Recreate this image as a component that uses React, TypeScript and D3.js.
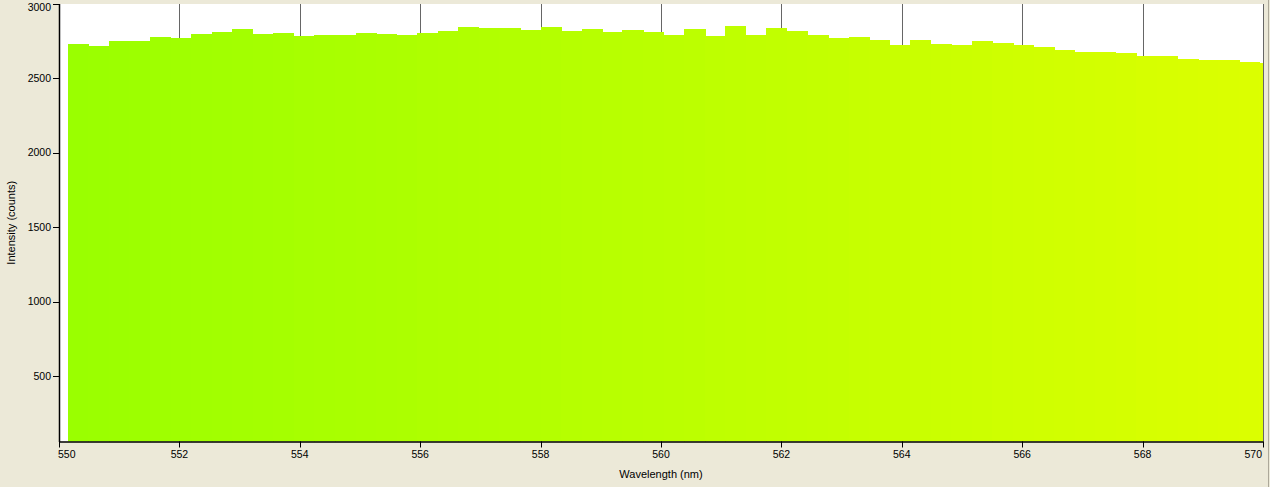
import React from "react";
import * as d3 from "d3";

const wavelengths: number[] = [
  550.32, 550.66, 551.0, 551.34, 551.68, 552.03, 552.37, 552.71, 553.05, 553.39,
  553.73, 554.07, 554.41, 554.76, 555.1, 555.44, 555.78, 556.12, 556.46, 556.8,
  557.14, 557.49, 557.83, 558.17, 558.51, 558.85, 559.19, 559.53, 559.87, 560.22,
  560.56, 560.9, 561.24, 561.58, 561.92, 562.26, 562.6, 562.95, 563.29, 563.63,
  563.97, 564.31, 564.65, 564.99, 565.33, 565.68, 566.02, 566.36, 566.7, 567.04,
  567.38, 567.72, 568.06, 568.41, 568.75, 569.09, 569.43, 569.77, 570.11,
];

const intensities: number[] = [
  2733, 2720, 2753, 2753, 2780, 2774, 2800, 2814, 2834, 2800,
  2807, 2787, 2794, 2794, 2807, 2800, 2794, 2807, 2820, 2847,
  2841, 2841, 2827, 2847, 2820, 2834, 2814, 2827, 2814, 2794,
  2834, 2787, 2854, 2794, 2841, 2820, 2794, 2774, 2780, 2760,
  2726, 2760, 2733, 2726, 2753, 2740, 2726, 2713, 2693, 2679,
  2679, 2673, 2653, 2653, 2632, 2626, 2626, 2612, 2606,
];

const xTicks: number[] = [550, 552, 554, 556, 558, 560, 562, 564, 566, 568, 570];
const yTicks: number[] = [500, 1000, 1500, 2000, 2500, 3000];

const W = 1270;
const H = 487;
const left = 59;
const right = 1263;
const top = 4;
const bottom = 441.5;

export default function App() {
  const x = d3.scaleLinear().domain([550, 570]).range([left, right]);
  const y = d3.scaleLinear().domain([60, 3000]).range([bottom, top]);
  const color = d3
    .scaleLinear<string>()
    .domain([550, 570])
    .range(["#99ff00", "#dcff00"]);

  const half = (wavelengths[1] - wavelengths[0]) / 2;
  const bars = wavelengths.map((w, i) => {
    const l = i > 0 ? (wavelengths[i - 1] + w) / 2 : w - half;
    const r = i < wavelengths.length - 1 ? (w + wavelengths[i + 1]) / 2 : w + half;
    return { w, l, r, v: intensities[i] };
  });

  const font = "'Liberation Sans', Arial, sans-serif";
  const yMax = yTicks[yTicks.length - 1];

  return (
    <svg
      width={W}
      height={H}
      style={{ position: "absolute", left: 0, top: 0, display: "block" }}
    >
      <defs>
        <clipPath id="plotClip">
          <rect x={left} y={top} width={right - left} height={bottom - top} />
        </clipPath>
      </defs>
      <rect x={0} y={0} width={W} height={H} fill="#ece9d8" />
      <rect x={left} y={top} width={right - left} height={bottom - top} fill="#ffffff" />
      {xTicks.slice(1).map((t) => (
        <line
          key={"g" + t}
          x1={Math.round(x(t)) + 0.5}
          x2={Math.round(x(t)) + 0.5}
          y1={top}
          y2={bottom}
          stroke="#666666"
          strokeWidth={1}
        />
      ))}
      <g clipPath="url(#plotClip)" shapeRendering="crispEdges">
        {bars.map((b, i) => (
          <rect
            key={i}
            x={x(b.l)}
            width={x(b.r) - x(b.l) + 0.6}
            y={y(b.v)}
            height={bottom - y(b.v)}
            fill={color(b.w)}
          />
        ))}
      </g>
      <line x1={left + 0.5} x2={left + 0.5} y1={top} y2={bottom + 0.5} stroke="#000" strokeWidth={1.5} />
      {yTicks.map((t) => (
        <g key={"y" + t}>
          <line
            x1={left - 6}
            x2={left}
            y1={Math.round(y(t)) + 0.5}
            y2={Math.round(y(t)) + 0.5}
            stroke="#000"
          />
          <text
            x={left - 8}
            y={t === yMax ? y(t) + 3 : y(t)}
            dy="0.35em"
            textAnchor="end"
            fontFamily={font}
            fontSize={10.5}
            fill="#000"
          >
            {t}
          </text>
        </g>
      ))}
      <line x1={left} x2={right + 0.5} y1={bottom + 0.5} y2={bottom + 0.5} stroke="#000" strokeWidth={1.5} />
      {xTicks.map((t, i) => (
        <g key={"x" + t}>
          <line
            x1={Math.round(x(t)) + 0.5}
            x2={Math.round(x(t)) + 0.5}
            y1={bottom}
            y2={bottom + 6}
            stroke="#000"
          />
          <text
            x={i === 0 ? x(t) - 1 : i === xTicks.length - 1 ? x(t) - 1 : x(t)}
            y={bottom + 13}
            dy="0.35em"
            textAnchor={i === 0 ? "start" : i === xTicks.length - 1 ? "end" : "middle"}
            fontFamily={font}
            fontSize={10.5}
            fill="#000"
          >
            {t}
          </text>
        </g>
      ))}
      <text
        x={(left + right) / 2}
        y={474}
        dy="0.35em"
        textAnchor="middle"
        fontFamily={font}
        fontSize={11}
        fill="#000"
      >
        Wavelength (nm)
      </text>
      <text
        transform={`translate(11, ${(top + bottom) / 2}) rotate(-90)`}
        dy="0.35em"
        textAnchor="middle"
        fontFamily={font}
        fontSize={11}
        fill="#000"
      >
        Intensity (counts)
      </text>
      <line x1={1268.5} x2={1268.5} y1={0} y2={H} stroke="#aca899" />
    </svg>
  );
}
